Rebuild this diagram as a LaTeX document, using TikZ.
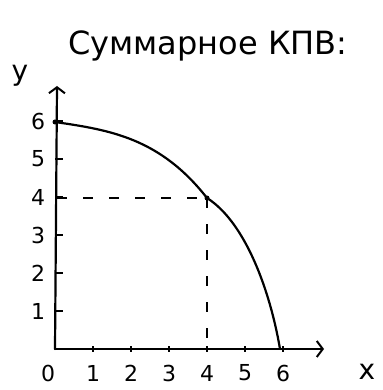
\documentclass[tikz,border=0pt]{standalone}
\usepackage{fontspec}
\setmainfont{DejaVu Sans}
\usetikzlibrary{arrows.meta}
\tikzset{
  axis/.style={line width=2.2pt, line cap=round},
  curveline/.style={line width=2.2pt, line cap=round},
  guide/.style={line width=2.2pt, dash pattern=on 10pt off 16pt},
  tickmark/.style={line width=2.2pt},
  lab/.style={font=\fontsize{22}{26}\selectfont, inner sep=0pt},
  axlab/.style={font=\fontsize{28}{32}\selectfont, inner sep=0pt},
  ttl/.style={font=\fontsize{32}{38}\selectfont, inner sep=0pt, anchor=base west},
  tip/.style={-{Straight Barb[length=6pt,width=16pt,line width=2pt]}}
}
\begin{document}
\begin{tikzpicture}[x=1pt,y=-1pt]
\useasboundingbox (0,0) rectangle (382,390);
\fill[white] (0,0) rectangle (382,390);
% title
\node[ttl] (title) at (68,55) {Суммарное КПВ:};
% axes
\coordinate (O) at (55,349);
\coordinate (ytop) at (57,86);
\coordinate (xend) at (324,349);
\draw[axis,tip] (O) -- (ytop);
\draw[axis,tip] (O) -- (xend);
\node[axlab] (ylab) at (20,76) {y};
\node[axlab] (xlab) at (367,372) {x};
% y ticks and labels
\foreach \k in {1,...,6}{
  \draw[tickmark] (55,{349-38*\k}) -- (63,{349-38*\k});
  \node[lab] (y\k) at (38,{349-38*\k}) {\k};
}
% x ticks and labels
\foreach \k in {1,...,6}{
  \draw[tickmark] ({55+38*\k},346) -- ({55+38*\k},352);
  \node[lab] (x\k) at ({55+38*\k},373) {\k};
}
\node[lab] (x0) at (48,373) {0};
% points
\coordinate (A) at (55,122);
\coordinate (K) at (207,198);
\coordinate (B) at (280,349);
\coordinate (Kx) at (207,349);
\coordinate (Ky) at (57,198);
% dashed guides
\draw[guide] (Ky) -- (K);
\draw[guide] (K) -- (Kx);
% curve
\draw[curveline] (A) .. controls (110,130) and (160,138) .. (K)
  .. controls (245,222) and (270,290) .. (B);
\fill (A) circle (2.5pt);
\fill (K) circle (2.5pt);
\end{tikzpicture}
\end{document}
